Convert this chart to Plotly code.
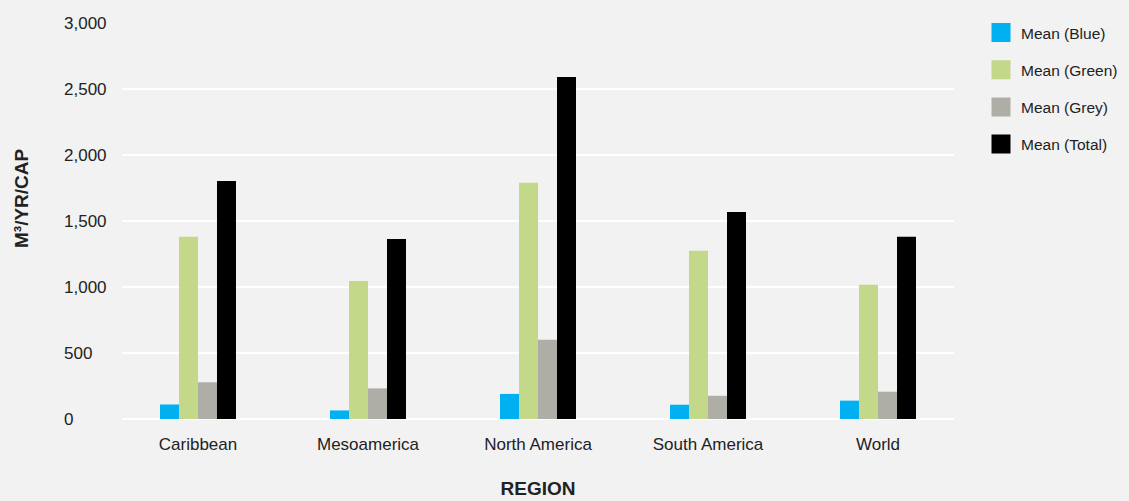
import plotly.graph_objects as go

regions = ["Caribbean", "Mesoamerica", "North America", "South America", "World"]
mean_blue = [110, 65, 190, 108, 139]
mean_green = [1380, 1045, 1790, 1274, 1017]
mean_grey = [278, 232, 600, 176, 207]
mean_total = [1803, 1363, 2590, 1569, 1380]
series_names = ["Mean (Blue)", "Mean (Green)", "Mean (Grey)", "Mean (Total)"]
series_colors = ["#00b0f0", "#c3d888", "#aeaea6", "#000000"]
y_tick_vals = [0, 500, 1000, 1500, 2000, 2500, 3000]
y_tick_text = ["0", "500", "1,000", "1,500", "2,000", "2,500", "3,000"]

FONT = "Liberation Sans, Arial, sans-serif"
TXT = "#222222"

fig = go.Figure()
for name, vals, col in zip(series_names, [mean_blue, mean_green, mean_grey, mean_total], series_colors):
    fig.add_trace(go.Bar(x=regions, y=vals, name=name, marker=dict(color=col, line=dict(width=0)),
                         legendgroup=name, showlegend=False))
# legend entries with larger square swatches
for name, col in zip(series_names, series_colors):
    fig.add_trace(go.Scatter(x=[None], y=[None], mode="markers", name=name, legendgroup=name,
                             marker=dict(symbol="square", size=19, color=col, line=dict(width=3, color=col)),
                             showlegend=True, hoverinfo="skip"))

W, H = 1129, 501
L, R, T, B = 122, 175, 23, 82
pw = W - L - R
ph = H - T - B
x_pad = 0.447  # category units beyond first/last category

annotations = []
for v, t in zip(y_tick_vals, y_tick_text):
    annotations.append(dict(x=(62 - L) / pw, xref="paper", y=v, yref="y", text=t, showarrow=False,
                            xanchor="left", yanchor="middle", font=dict(family=FONT, size=17, color=TXT)))
annotations.append(dict(x=(21 - L) / pw, xref="paper", y=(H - B - 198) / ph, yref="paper",
                        text="<b>M³/YR/CAP</b>", textangle=-90, showarrow=False,
                        xanchor="center", yanchor="middle", font=dict(family=FONT, size=19, color=TXT)))

fig.update_layout(
    width=W, height=H,
    margin=dict(l=L, r=R, t=T, b=B, pad=0, autoexpand=False),
    paper_bgcolor="#f2f2f2", plot_bgcolor="#f2f2f2",
    barmode="group", bargap=0.553, bargroupgap=0,
    font=dict(family=FONT, size=17, color=TXT),
    showlegend=True,
    legend=dict(x=(981 - L) / pw, xanchor="left", y=1 + 7 / ph, yanchor="top",
                bgcolor="rgba(0,0,0,0)", font=dict(family=FONT, size=15.5, color=TXT),
                tracegroupgap=14, itemclick=False, itemdoubleclick=False),
    xaxis=dict(showgrid=False, zeroline=False, showline=False, ticks="outside", ticklen=10,
               range=[-x_pad, len(regions) - 1 + x_pad],
               tickcolor="rgba(0,0,0,0)", tickfont=dict(family=FONT, size=17, color=TXT),
               automargin=False,
               title=dict(text="<b>REGION</b>", standoff=28, font=dict(family=FONT, size=19, color=TXT))),
    yaxis=dict(range=[0, 3000], tickvals=y_tick_vals, showticklabels=False, showgrid=True,
               gridcolor="#ffffff", gridwidth=2, zeroline=True, zerolinecolor="#ffffff", zerolinewidth=2,
               showline=False, automargin=False),
    annotations=annotations,
)

fig.write_html("out.html", config={"displayModeBar": False},
               post_script="document.body.style.margin='0';document.body.style.background='#f2f2f2';")
